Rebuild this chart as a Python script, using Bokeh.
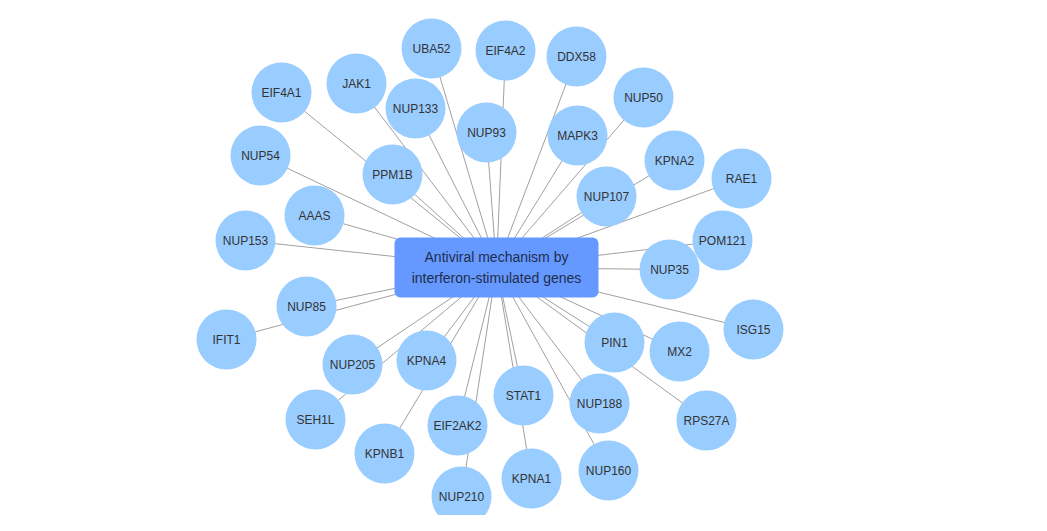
from bokeh.plotting import figure
from bokeh.models import ColumnDataSource, Range1d
from bokeh.core.properties import value
from bokeh.embed import file_html
from bokeh.resources import INLINE

center_label = "Antiviral mechanism by\ninterferon-stimulated genes"
center_x, center_y = 496, 267

genes = ["UBA52", "EIF4A2", "DDX58", "JAK1", "EIF4A1", "NUP133", "NUP93", "MAPK3",
         "NUP50", "NUP54", "PPM1B", "KPNA2", "RAE1", "NUP107", "AAAS", "NUP153",
         "POM121", "NUP35", "NUP85", "IFIT1", "ISG15", "PIN1", "MX2", "NUP205",
         "KPNA4", "STAT1", "NUP188", "SEH1L", "EIF2AK2", "RPS27A", "KPNB1", "KPNA1",
         "NUP160", "NUP210"]
gx = [431, 505, 576, 356, 281, 415, 486, 577, 643, 260, 392, 674, 741, 606, 314, 245,
      722, 669, 306, 226, 753, 614, 679, 352, 426, 523, 599, 315, 457, 706, 384, 531,
      608, 461]
gy = [48, 50, 56, 83, 92, 108, 132, 135, 97, 155, 174, 160, 178, 196, 215, 240,
      240, 269, 306, 339, 329, 342, 351, 364, 360, 395, 403, 419, 425, 420, 453, 478,
      470, 496]

p = figure(width=1031, height=515, output_backend="svg", toolbar_location=None,
           x_range=Range1d(0, 1031), y_range=Range1d(515, 0), min_border=0)
p.axis.visible = False
p.grid.visible = False
p.outline_line_color = None

src = ColumnDataSource(dict(name=genes, x=gx, y=gy,
                            cx=[center_x] * len(genes), cy=[center_y] * len(genes)))
p.segment("x", "y", "cx", "cy", source=src, line_color="#a0a0a0", line_width=1)
p.circle("x", "y", radius=30, source=src, fill_color="#99ccff", line_color=None)
p.text("x", "y", text="name", source=src, text_align="center", text_baseline="middle",
       text_font=value("Liberation Sans"), text_font_size="12px", text_color="#333333")

p.rect([center_x], [center_y], width=204, height=60, fill_color="#6699ff",
       line_color=None, border_radius=6)
p.text([center_x], [center_y], text=[center_label], text_align="center",
       text_baseline="middle", text_font=value("Liberation Sans"),
       text_font_size="14px", text_color="#1f2d4d", text_line_height=1.3)

open("out.html", "w").write(file_html(p, INLINE))
